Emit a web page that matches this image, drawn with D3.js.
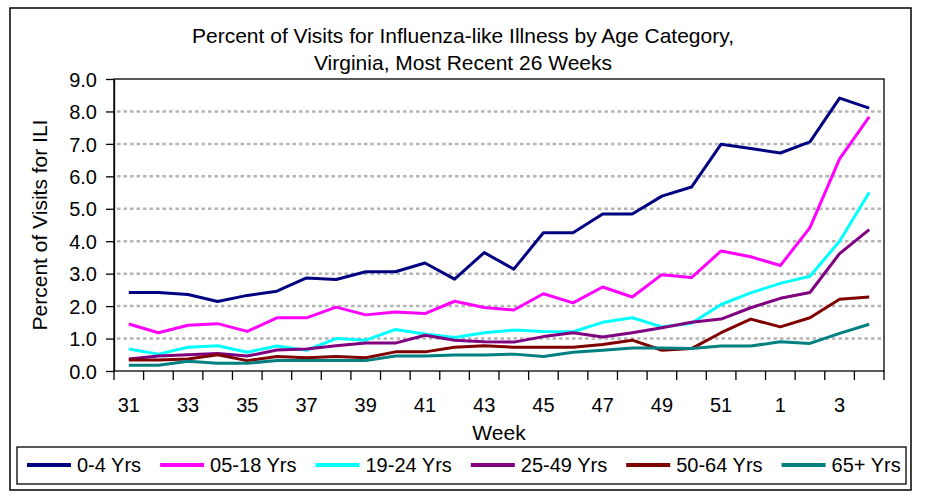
<!DOCTYPE html>
<html>
<head>
<meta charset="utf-8">
<title>Percent of Visits for ILI by Age Category</title>
<script src="https://d3js.org/d3.v7.min.js"></script>
<style>
  body { margin: 0; background: #fff; }
  text { font-family: "Liberation Sans", Arial, sans-serif; fill: #000; }
</style>
</head>
<body>
<script>
// week labels (most recent 26 weeks)
var weeks = ["31","32","33","34","35","36","37","38","39","40","41","42","43",
             "44","45","46","47","48","49","50","51","52","1","2","3","4"];
var tickWeeks = ["31","33","35","37","39","41","43","45","47","49","51","1","3"];
var yTicks = [0,1,2,3,4,5,6,7,8,9];

// percent of visits for ILI per age group
var age0_4   = [2.42,2.42,2.36,2.14,2.33,2.46,2.87,2.82,3.06,3.06,3.33,2.83,3.65,
                3.14,4.26,4.26,4.84,4.84,5.39,5.67,6.99,6.86,6.72,7.06,8.41,8.10];
var age05_18 = [1.45,1.18,1.41,1.46,1.22,1.64,1.64,1.97,1.73,1.82,1.77,2.15,1.96,
                1.88,2.38,2.10,2.59,2.28,2.97,2.88,3.70,3.52,3.25,4.42,6.54,7.83];
var age19_24 = [0.68,0.52,0.73,0.78,0.58,0.77,0.64,1.00,0.95,1.28,1.14,1.03,1.18,
                1.26,1.22,1.21,1.50,1.64,1.36,1.47,2.05,2.41,2.70,2.92,4.00,5.50];
var age25_49 = [0.37,0.46,0.50,0.54,0.46,0.65,0.68,0.78,0.86,0.86,1.10,0.95,0.90,
                0.89,1.06,1.18,1.05,1.18,1.33,1.50,1.60,1.95,2.24,2.42,3.62,4.36];
var age50_64 = [0.34,0.34,0.37,0.50,0.32,0.45,0.41,0.45,0.41,0.59,0.59,0.73,0.78,
                0.73,0.73,0.73,0.82,0.95,0.64,0.69,1.18,1.60,1.36,1.64,2.21,2.28];
var age65p   = [0.18,0.18,0.30,0.24,0.24,0.32,0.32,0.32,0.32,0.46,0.46,0.49,0.49,
                0.52,0.45,0.58,0.64,0.71,0.71,0.69,0.77,0.77,0.90,0.85,1.16,1.44];

var seriesNames = ["0-4 Yrs","05-18 Yrs","19-24 Yrs","25-49 Yrs","50-64 Yrs","65+ Yrs"];
var seriesColors = ["#000080","#ff00ff","#00ffff","#800080","#800000","#008080"];
var seriesValues = [age0_4, age05_18, age19_24, age25_49, age50_64, age65p];

var width = 925, height = 501;
// plot area edges
var pLeft = 114, pRight = 884, pTop = 79, pBottom = 371;

var svg = d3.select("body").append("svg")
    .attr("width", width)
    .attr("height", height);

// outer chart border
svg.append("rect")
    .attr("x", 10).attr("y", 8)
    .attr("width", 901).attr("height", 482)
    .attr("fill", "#fff")
    .attr("stroke", "#000")
    .attr("stroke-width", 1.5);

var x = d3.scaleBand().domain(weeks).range([pLeft, pRight]).padding(0);
var y = d3.scaleLinear().domain([0, 9]).range([pBottom, pTop]);

// dashed gridlines
svg.append("g")
    .selectAll("line")
    .data(yTicks.filter(function(d) { return d > 0 && d < 9; }))
    .enter()
    .append("line")
    .attr("x1", pLeft + 3).attr("x2", pRight - 2)
    .attr("y1", function(d) { return y(d); })
    .attr("y2", function(d) { return y(d); })
    .attr("stroke", "#b4b4b4")
    .attr("stroke-width", 2.5)
    .attr("stroke-dasharray", "3.5,3");

// plot area border
svg.append("rect")
    .attr("x", pLeft).attr("y", pTop)
    .attr("width", pRight - pLeft).attr("height", pBottom - pTop)
    .attr("fill", "none")
    .attr("stroke", "#000")
    .attr("stroke-width", 1.3);

// y axis
var yAxis = d3.axisLeft(y)
    .tickValues(yTicks)
    .tickFormat(d3.format(".1f"))
    .tickSize(8)
    .tickSizeOuter(0)
    .tickPadding(9);
var gy = svg.append("g")
    .attr("transform", "translate(" + pLeft + ",0)")
    .call(yAxis);
gy.select(".domain").attr("stroke", "#000").attr("stroke-width", 1.3);
gy.selectAll(".tick line").attr("stroke", "#000").attr("stroke-width", 1.3);
gy.selectAll(".tick text")
    .attr("font-size", 20)
    .attr("font-family", "Liberation Sans, Arial, sans-serif")
    .attr("dy", "0.36em");

// x axis: tick marks at category boundaries
var boundaries = weeks.map(function(w) { return x(w); }).concat([x(weeks[weeks.length - 1]) + x.bandwidth()]);
svg.append("g")
    .selectAll("line")
    .data(boundaries)
    .enter()
    .append("line")
    .attr("x1", function(d) { return d; })
    .attr("x2", function(d) { return d; })
    .attr("y1", pBottom)
    .attr("y2", pBottom + 9)
    .attr("stroke", "#000")
    .attr("stroke-width", 1.3);

// x axis labels
var xAxis = d3.axisBottom(x)
    .tickValues(tickWeeks)
    .tickSize(0)
    .tickSizeOuter(0);
var gx = svg.append("g")
    .attr("transform", "translate(0," + pBottom + ")")
    .call(xAxis);
gx.select(".domain").remove();
gx.selectAll(".tick text")
    .attr("font-size", 20)
    .attr("font-family", "Liberation Sans, Arial, sans-serif")
    .attr("y", 41)
    .attr("dy", 0);

// lines
var line = d3.line()
    .x(function(d, i) { return x(weeks[i]) + x.bandwidth() / 2; })
    .y(function(d) { return y(d); });

svg.append("g")
    .selectAll("path")
    .data(seriesValues)
    .enter()
    .append("path")
    .attr("d", function(d) { return line(d); })
    .attr("fill", "none")
    .attr("stroke", function(d, i) { return seriesColors[i]; })
    .attr("stroke-width", 3)
    .attr("stroke-linejoin", "round");

// titles
svg.append("text")
    .attr("x", 463).attr("y", 43)
    .attr("text-anchor", "middle")
    .attr("font-size", 21)
    .text("Percent of Visits for Influenza-like Illness by Age Category,");
svg.append("text")
    .attr("x", 463).attr("y", 70)
    .attr("text-anchor", "middle")
    .attr("font-size", 21)
    .text("Virginia, Most Recent 26 Weeks");

svg.append("text")
    .attr("transform", "translate(47," + ((pTop + pBottom) / 2) + ") rotate(-90)")
    .attr("text-anchor", "middle")
    .attr("font-size", 21)
    .text("Percent of Visits for ILI");

svg.append("text")
    .attr("x", (pLeft + pRight) / 2).attr("y", 440)
    .attr("text-anchor", "middle")
    .attr("font-size", 21)
    .text("Week");

// legend
svg.append("rect")
    .attr("x", 17).attr("y", 447)
    .attr("width", 889).attr("height", 37)
    .attr("fill", "#fff")
    .attr("stroke", "#000")
    .attr("stroke-width", 1.3);

var lx = 27;
seriesNames.forEach(function(name, i) {
    svg.append("line")
        .attr("x1", lx).attr("x2", lx + 44)
        .attr("y1", 465).attr("y2", 465)
        .attr("stroke", seriesColors[i])
        .attr("stroke-width", 4);
    var t = svg.append("text")
        .attr("x", lx + 50).attr("y", 472)
        .attr("font-size", 20)
        .text(name);
    lx += 50 + t.node().getComputedTextLength() + 19;
});
</script>
</body>
</html>
